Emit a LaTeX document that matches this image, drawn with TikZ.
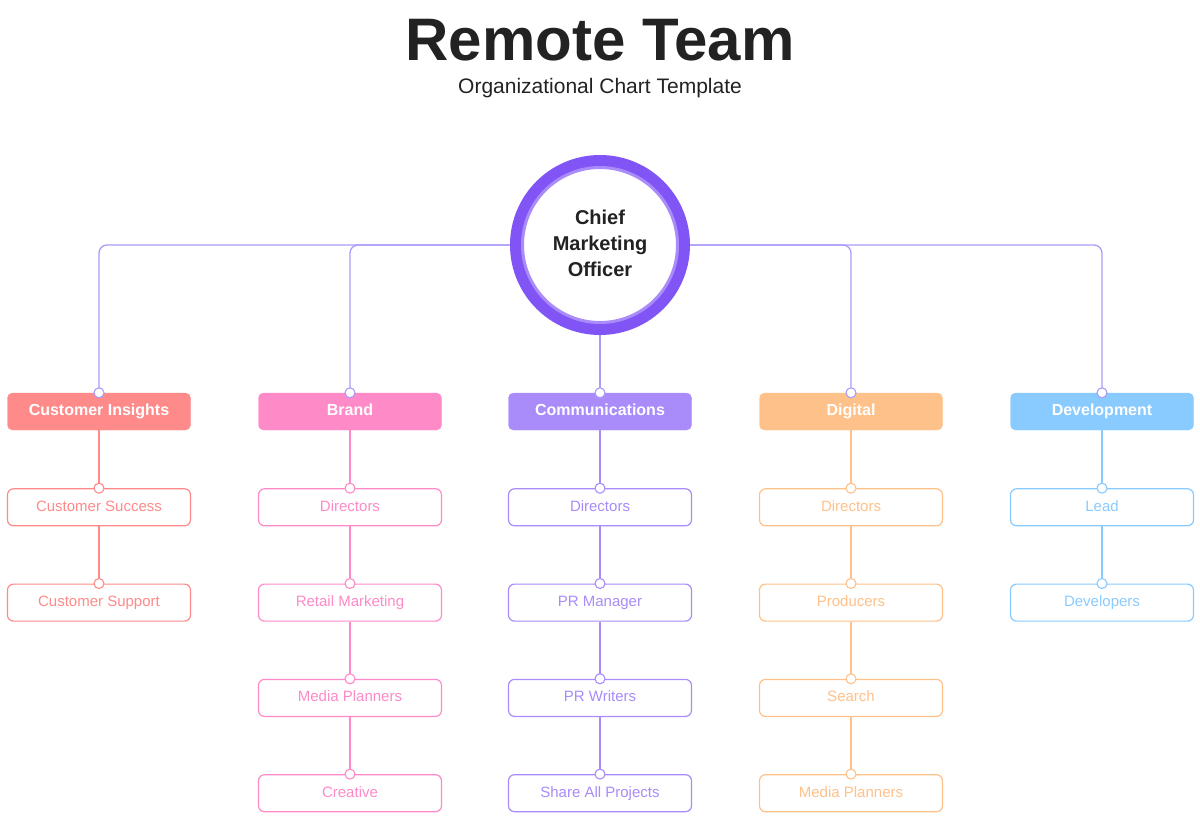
\documentclass[tikz,border=0pt]{standalone}
\usepackage{fontspec}
\setmainfont{Liberation Sans}
\definecolor{cR}{HTML}{FF8A8A}
\definecolor{cP}{HTML}{FF8AC8}
\definecolor{cV}{HTML}{A98BFA}
\definecolor{cO}{HTML}{FFC18A}
\definecolor{cB}{HTML}{8ACBFF}
\definecolor{cD}{HTML}{8155F5}
\definecolor{lin}{HTML}{A99BFA}
\definecolor{tx}{HTML}{222222}
\begin{document}
\begin{tikzpicture}[x=1pt,y=-1pt,
  head/.style={draw=#1,fill=#1,rounded corners=5pt,minimum width=183pt,minimum height=37pt,text height=11pt,text depth=3pt,text=white,font=\fontsize{16}{18}\selectfont\bfseries},
  item/.style={draw=#1,line width=1.2pt,fill=white,rounded corners=6pt,minimum width=183pt,minimum height=37pt,text height=11pt,text depth=3pt,text=#1,font=\fontsize{15}{18}\selectfont},
  dot/.style={circle,draw=#1,fill=white,line width=1.1pt,inner sep=0pt,minimum size=10pt},
  con/.style={draw=#1,line width=1.3pt}]
\useasboundingbox (0,0) rectangle (1200,819);
\node[text=tx,font=\fontsize{60}{64}\selectfont\bfseries] (title) at (600,40) {Remote Team};
\node[text=tx,font=\fontsize{21}{24}\selectfont] (sub) at (600,88) {Organizational Chart Template};
\foreach \n/\x/\c/\h in {a/99/cR/Customer Insights,b/350/cP/Brand,c/600/cV/Communications,d/851/cO/Digital,e/1102/cB/Development}{
  \node[head=\c] (\n0) at (\x,411.5) {\h};
}
\draw[con=lin,rounded corners=8pt] (a0.north) |- (600,245) -| (e0.north);
\draw[con=lin,rounded corners=8pt] (b0.north) |- (600,245) -| (d0.north);
\draw[con=lin] (600,245) -- (c0.north);
\node[circle,draw=cD,line width=12pt,fill=white,minimum size=168pt] (ceo) at (600,245) {};
\draw[cV,line width=3pt] (600,245) circle (77.5pt);
\node[text=tx,align=center,font=\fontsize{20}{26}\selectfont\bfseries] at (600,243) {Chief\\Marketing\\Officer};
\foreach \n in {a,b,c,d,e}{\node[dot=lin] at (\n0.north) {};}
\foreach \n/\x/\c/\lst in {a/99/cR/{Customer Success,Customer Support},b/350/cP/{Directors,Retail Marketing,Media Planners,Creative},c/600/cV/{Directors,PR Manager,PR Writers,Share All Projects},d/851/cO/{Directors,Producers,Search,Media Planners},e/1102/cB/{Lead,Developers}}{
  \foreach \t [count=\i, remember=\i as \j (initially 0)] in \lst {
    \node[item=\c] (\n\i) at (\x,412+95.3*\i) {\t};
    \draw[con=\c] (\n\j.south) -- (\n\i.north);
    \node[dot=\c] at (\n\i.north) {};
  }
}
\end{tikzpicture}
\end{document}
